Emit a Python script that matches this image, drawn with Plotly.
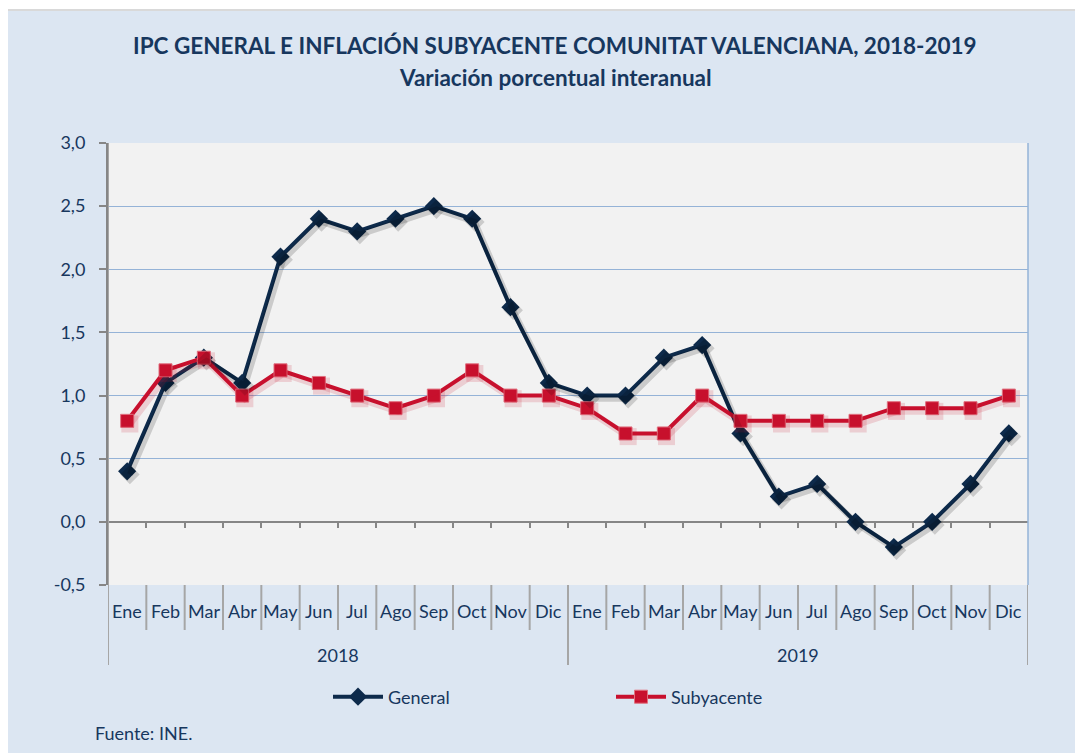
import plotly.graph_objects as go

months = ["Ene", "Feb", "Mar", "Abr", "May", "Jun", "Jul", "Ago", "Sep", "Oct", "Nov", "Dic"]
years = ["2018", "2019"]
categories = months * 2
general = [0.4, 1.1, 1.3, 1.1, 2.1, 2.4, 2.3, 2.4, 2.5, 2.4, 1.7, 1.1,
           1.0, 1.0, 1.3, 1.4, 0.7, 0.2, 0.3, 0.0, -0.2, 0.0, 0.3, 0.7]
subyacente = [0.8, 1.2, 1.3, 1.0, 1.2, 1.1, 1.0, 0.9, 1.0, 1.2, 1.0, 1.0,
              0.9, 0.7, 0.7, 1.0, 0.8, 0.8, 0.8, 0.8, 0.9, 0.9, 0.9, 1.0]
y_ticks = [-0.5, 0.0, 0.5, 1.0, 1.5, 2.0, 2.5, 3.0]
y_tick_labels = ["-0,5", "0,0", "0,5", "1,0", "1,5", "2,0", "2,5", "3,0"]

NAVY = "#0d2a4b"
RED = "#c8102e"
TXT = "#17375e"
FONT = "Lato"

x = list(range(len(categories)))
n = len(categories)

fig = go.Figure()

# soft shadows (same data drawn on slightly shifted overlay axes)
fig.add_trace(go.Scatter(x=x, y=general, mode="lines+markers", xaxis="x2", yaxis="y2",
                         line=dict(color="rgba(0,0,0,0.16)", width=6),
                         marker=dict(symbol="diamond", size=15, color="rgba(0,0,0,0.16)"),
                         showlegend=False, hoverinfo="skip"))
fig.add_trace(go.Scatter(x=x, y=subyacente, mode="lines+markers", xaxis="x2", yaxis="y2",
                         line=dict(color="rgba(200,16,46,0.16)", width=7),
                         marker=dict(symbol="square", size=17, color="rgba(200,16,46,0.16)"),
                         showlegend=False, hoverinfo="skip"))

fig.add_trace(go.Scatter(x=x, y=general, name="General", mode="lines+markers",
                         line=dict(color=NAVY, width=4),
                         marker=dict(symbol="diamond", size=14, color=NAVY)))
fig.add_trace(go.Scatter(x=x, y=subyacente, name="Subyacente", mode="lines+markers",
                         line=dict(color=RED, width=4),
                         marker=dict(symbol="square", size=13, color=RED,
                                     line=dict(color="#e0707f", width=1))))

# page offset of 8px (body margin): figure origin sits at page (8, 8)
L, T = 100, 135          # plot area top-left in figure coords
PW, PH = 920, 442
W, H = 1075, 745

def px_y(p):  # pixel offset below plot bottom -> paper
    return -p / PH

def page_x(px):  # page x -> paper
    return (px - 8 - L) / PW

def page_y(py):  # page y -> paper
    return (T + PH - (py - 8)) / PH

shapes = []
# outer frame
shapes.append(dict(type="rect", xref="paper", yref="paper", layer="below",
                   x0=page_x(7), x1=1.2, y0=-0.5, y1=page_y(10),
                   fillcolor="#dce6f2", line=dict(color="#d9d9d9", width=2)))
# plot area
shapes.append(dict(type="rect", xref="paper", yref="paper", layer="below",
                   x0=0, x1=1, y0=0, y1=1, fillcolor="#f2f2f2", line=dict(width=0)))
# right border
shapes.append(dict(type="line", xref="paper", yref="paper", x0=1, x1=1, y0=0, y1=1,
                   line=dict(color="#95b3d7", width=1.5)))
# month separators
for k in range(n - 1):
    if (k + 1) % 12 == 0:
        continue
    shapes.append(dict(type="line", xref="x", yref="paper", x0=k + 0.5, x1=k + 0.5,
                       y0=0, y1=px_y(45), line=dict(color="#a6a6a6", width=2)))
# year separators
for b in [-0.5, 11.5, n - 0.5]:
    shapes.append(dict(type="line", xref="x", yref="paper", x0=b, x1=b,
                       y0=0 if b != -0.5 else 1, y1=px_y(80),
                       line=dict(color="#a6a6a6", width=2)))

annotations = []
for i, m in enumerate(categories):
    annotations.append(dict(x=i, y=px_y(26), xref="x", yref="paper", text=m, showarrow=False,
                            font=dict(family=FONT, size=18, color=TXT), yanchor="middle"))
for j, yr in enumerate(years):
    annotations.append(dict(x=j * 12 + 5.5, y=px_y(70), xref="x", yref="paper", text=yr,
                            showarrow=False, font=dict(family=FONT, size=18, color=TXT),
                            yanchor="middle"))
annotations.append(dict(x=page_x(555), y=page_y(46), xref="paper", yref="paper",
                        text="<b>IPC GENERAL E INFLACIÓN SUBYACENTE COMUNITAT VALENCIANA, 2018-2019</b>",
                        showarrow=False, font=dict(family=FONT, size=22.5, color=TXT),
                        yanchor="middle"))
annotations.append(dict(x=page_x(555), y=page_y(77), xref="paper", yref="paper",
                        text="<b>Variación porcentual interanual</b>",
                        showarrow=False, font=dict(family=FONT, size=22.5, color=TXT),
                        yanchor="middle"))
annotations.append(dict(x=page_x(93), y=page_y(733), xref="paper", yref="paper",
                        text="Fuente: INE.", showarrow=False, xanchor="left", yanchor="middle",
                        font=dict(family=FONT, size=18, color=TXT)))

fig.update_layout(
    width=W, height=H,
    margin=dict(l=L, r=W - L - PW, t=T, b=H - T - PH),
    paper_bgcolor="white", plot_bgcolor="#f2f2f2",
    shapes=shapes, annotations=annotations,
    xaxis=dict(range=[-0.5, n - 0.5], anchor="free", position=0.5 / 3.5,
               tickvals=[k + 0.5 for k in range(n - 1)], ticks="outside", ticklen=5,
               tickcolor="#868686", tickwidth=1.5, showticklabels=False,
               showgrid=False, zeroline=False, showline=False, fixedrange=True),
    yaxis=dict(range=[-0.5, 3.0], tickvals=y_ticks, ticktext=y_tick_labels,
               ticks="outside", ticklen=7, tickcolor="#868686", tickwidth=1.5,
               ticklabelstandoff=10,
               showline=True, linecolor="#868686", linewidth=2,
               gridcolor="#95b3d7", gridwidth=1.2,
               zeroline=True, zerolinecolor="#868686", zerolinewidth=1.5,
               tickfont=dict(family=FONT, size=18, color=TXT)),
    xaxis2=dict(range=[-0.5 - 0.07, n - 0.5 - 0.07], overlaying="x", visible=False),
    yaxis2=dict(range=[-0.5 + 0.025, 3.0 + 0.025], overlaying="y", visible=False),
    legend=dict(orientation="h", x=page_x(328), xanchor="left", y=page_y(697),
                yanchor="middle", font=dict(family=FONT, size=18, color=TXT),
                bgcolor="rgba(0,0,0,0)", entrywidth=218, entrywidthmode="pixels",
                itemwidth=50),
)

fig.write_html("out.html")
